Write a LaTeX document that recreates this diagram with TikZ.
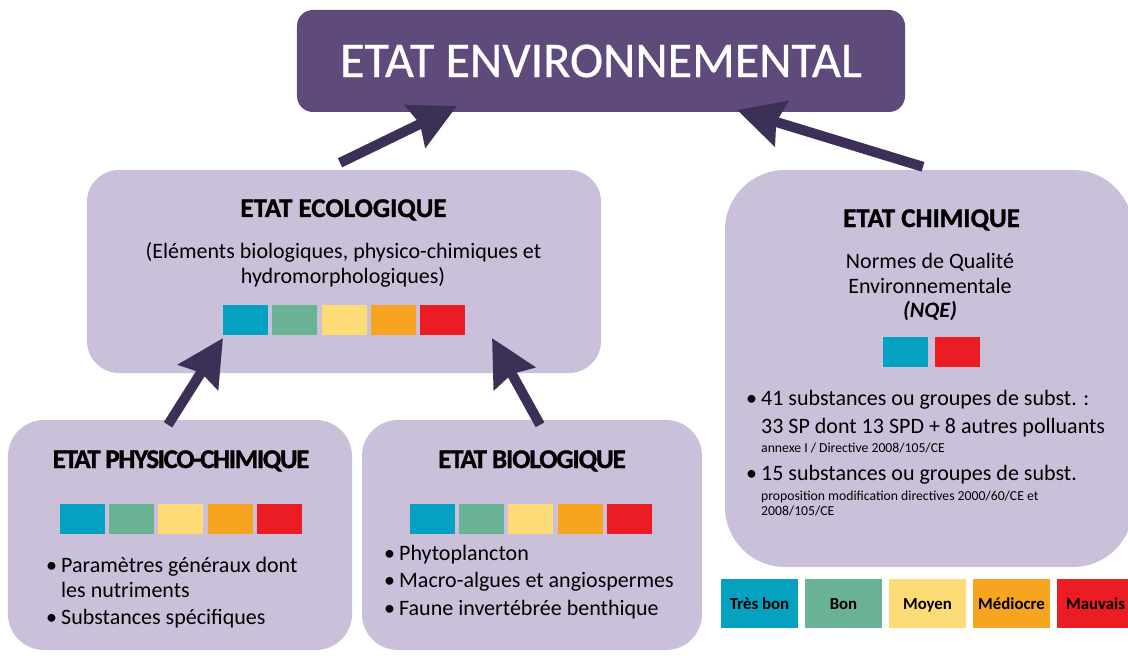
\documentclass[tikz,border=0pt]{standalone}
\usepackage{fontspec}
\setmainfont{Carlito}
\usetikzlibrary{arrows.meta}

\definecolor{violetfonce}{HTML}{5E4A7B}
\definecolor{violetclair}{HTML}{CBC0DA}
\definecolor{flechecol}{HTML}{3D3056}
\definecolor{tresbon}{HTML}{05A1C0}
\definecolor{bon}{HTML}{6AB294}
\definecolor{moyen}{HTML}{FDDC77}
\definecolor{mediocre}{HTML}{F7A520}
\definecolor{mauvais}{HTML}{EC1C24}

\newcommand{\puce}{\makebox[15bp][l]{•}}
\newcommand{\policetitre}{\fontsize{27bp}{32bp}\selectfont\bfseries\addfontfeature{FakeBold=1.2}}

\tikzset{
  boite/.style={fill=violetclair, rounded corners=#1, inner sep=0pt},
  titre/.style={anchor=base, inner sep=0pt, font=\policetitre},
  texte/.style={anchor=base, inner sep=0pt, font=\fontsize{22bp}{26bp}\selectfont},
  ligne/.style={anchor=base west, inner sep=0pt, font=\fontsize{22bp}{26bp}\selectfont},
  petit/.style={anchor=base west, inner sep=0pt, font=\fontsize{13.7bp}{16bp}\selectfont},
  carre/.style={minimum width=45bp, minimum height=30bp, inner sep=0pt},
  legende/.style={minimum width=77bp, minimum height=49bp, inner sep=0pt, text height=11bp, text depth=0bp, font=\fontsize{16.8bp}{19bp}\selectfont\bfseries},
  fleche/.style={draw=flechecol, line width=10bp, -{Stealth[length=46bp,width=46bp,inset=5bp]}}
}

\begin{document}
\begin{tikzpicture}[x=1bp,y=-1bp]
\useasboundingbox (0,0) rectangle (1128,656);

\node[fill=violetfonce, rounded corners=16bp, minimum width=608bp, minimum height=102bp, text=white, font=\fontsize{50bp}{58bp}\selectfont\addfontfeature{FakeBold=0.6}] (env) at (601,61) {ETAT ENVIRONNEMENTAL};
\node[boite=32bp, minimum width=514bp, minimum height=203bp] (eco) at (344,271.5) {};
\node[boite=60bp, minimum width=408bp, minimum height=397bp] (chim) at (929,368.5) {};
\node[boite=36bp, minimum width=344bp, minimum height=230bp] (phys) at (180,535) {};
\node[boite=36bp, minimum width=340bp, minimum height=230bp] (bio) at (532,535) {};

\node[titre] (eco-titre) at (343.5,217) {ETAT ECOLOGIQUE};
\node[texte] (eco-l1) at (343.5,258) {(Eléments biologiques, physico-chimiques et};
\node[texte] (eco-l2) at (343,283) {hydromorphologiques)};

\foreach \c [count=\i] in {tresbon,bon,moyen,mediocre,mauvais} {
  \node[carre, fill=\c] (eco-\i) at ({245.5+49.3*(\i-1)},320) {};
  \node[carre, fill=\c] (phys-\i) at ({82.3+49.3*(\i-1)},519) {};
  \node[carre, fill=\c] (bio-\i) at ({432.3+49.3*(\i-1)},519) {};
}

\node[titre, font=\policetitre\addfontfeature{LetterSpace=-5}] (phys-titre) at (181,468) {ETAT PHYSICO-CHIMIQUE};
\node[ligne] (phys-l1) at (46,572) {\puce Paramètres généraux dont};
\node[ligne] (phys-l2) at (61,597) {les nutriments};
\node[ligne] (phys-l3) at (46,624) {\puce Substances spécifiques};

\node[titre, font=\policetitre\addfontfeature{LetterSpace=-4}] (bio-titre) at (532,468) {ETAT BIOLOGIQUE};
\node[ligne] (bio-l1) at (384,560) {\puce Phytoplancton};
\node[ligne] (bio-l2) at (384,587) {\puce Macro-algues et angiospermes};
\node[ligne] (bio-l3) at (384,615) {\puce Faune invertébrée benthique};

\node[titre] (chim-titre) at (931.5,227) {ETAT CHIMIQUE};
\node[texte] (chim-l1) at (930,268) {Normes de Qualité};
\node[texte] (chim-l2) at (930,293) {Environnementale};
\node[texte, font=\fontsize{22bp}{26bp}\selectfont\bfseries\itshape] (chim-l3) at (930,317) {(NQE)};
\node[carre, fill=tresbon] (chim-1) at (905.5,351.5) {};
\node[carre, fill=mauvais] (chim-2) at (957,351.5) {};
\node[ligne] (chim-l4) at (746,405) {\puce 41 substances ou groupes de subst. :};
\node[ligne] (chim-l5) at (761,433) {33 SP dont 13 SPD + 8 autres polluants};
\node[petit] (chim-l6) at (761,452) {annexe I / Directive 2008/105/CE};
\node[ligne] (chim-l7) at (746,480) {\puce 15 substances ou groupes de subst.};
\node[petit] (chim-l8) at (761,500) {proposition modification directives 2000/60/CE et};
\node[petit] (chim-l9) at (761,515) {2008/105/CE};

\foreach \c/\t [count=\i] in {tresbon/Très bon, bon/Bon, moyen/Moyen, mediocre/Médiocre, mauvais/Mauvais}
  \node[legende, fill=\c] (leg-\i) at ({759.5+84*(\i-1)},603.5) {\t};

\coordinate (env-g) at (457,106);
\coordinate (env-d) at (737,110);
\coordinate (eco-g) at (223,338);
\coordinate (eco-d) at (492,338);
\draw[fleche] ([xshift=-4bp,yshift=7bp]eco.north) -- (env-g);
\draw[fleche] ([xshift=-6bp,yshift=3bp]chim.north) -- (env-d);
\draw[fleche] ([xshift=-12bp,yshift=-5bp]phys.north) -- (eco-g);
\draw[fleche] ([xshift=8bp,yshift=-5bp]bio.north) -- (eco-d);

\end{tikzpicture}
\end{document}
